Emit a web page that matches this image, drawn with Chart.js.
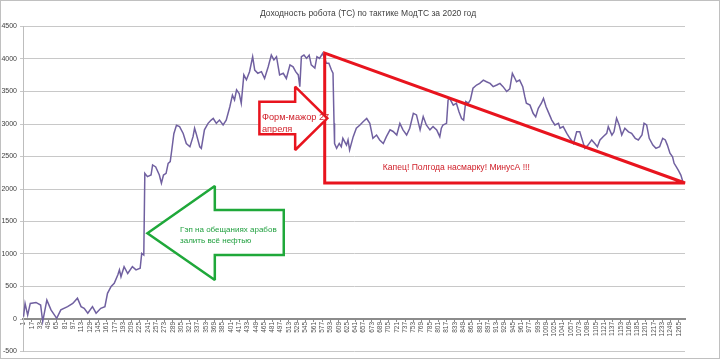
<!DOCTYPE html>
<html>
<head>
<meta charset="utf-8">
<script src="https://cdn.jsdelivr.net/npm/chart.js@4"></script>
<style>
  html, body { margin: 0; padding: 0; background: #fff; }
  #wrap { width: 720px; height: 359px; }
</style>
</head>
<body>
<div id="wrap"><canvas id="chart" width="720" height="359"></canvas></div>
<script>
const chartTitle = 'Доходность робота (ТС) по тактике МодТС за 2020 год';

// day number (category) and robot profit
const days = [
  1, 4, 9, 14, 25, 34, 38, 46, 54, 65, 73, 86, 96, 105, 112, 118, 125, 134, 141, 150,
  158, 163, 170, 176, 183, 186, 189, 195, 202, 211, 218, 226, 229, 233, 235, 240, 247, 250, 256, 263,
  267, 271, 276, 280, 284, 287, 291, 296, 302, 309, 315, 322, 328, 331, 334, 341, 344, 350, 357, 363,
  367, 373, 379, 386, 392, 399, 404, 408, 412, 417, 421, 426, 431, 437, 443, 447, 453, 460, 466, 473,
  479, 484, 489, 495, 502, 508, 515, 521, 526, 531, 534, 537, 542, 547, 552, 556, 563, 567, 572, 578,
  582, 585, 590, 595, 598, 600, 601, 605, 610, 614, 617, 624, 627, 630, 637, 643, 650, 656, 663, 669,
  675, 682, 688, 695, 701, 708, 714, 721, 727, 733, 740, 746, 753, 759, 766, 772, 778, 785, 791, 798,
  804, 807, 810, 817, 820, 823, 830, 836, 841, 846, 850, 854, 859, 863, 868, 875, 881, 888, 894, 901,
  907, 914, 920, 926, 933, 939, 944, 949, 952, 958, 964, 968, 971, 978, 984, 989, 994, 1000, 1004, 1009,
  1013, 1020, 1026, 1033, 1036, 1042, 1049, 1055, 1062, 1068, 1074, 1080, 1084, 1090, 1097, 1103, 1108, 1113, 1119, 1126,
  1129, 1136, 1140, 1145, 1150, 1155, 1161, 1168, 1174, 1181, 1187, 1194, 1198, 1203, 1208, 1215, 1221, 1228, 1234, 1239,
  1243, 1248, 1253, 1256, 1260, 1264, 1269, 1273
];
const profit = [
  35, 240, 60, 240, 255, 215, -40, 290, 140, 10, 140, 190, 240, 320, 190, 165, 90, 190, 90, 165,
  190, 395, 500, 550, 680, 755, 650, 805, 700, 805, 755, 780, 1010, 985, 2240, 2190, 2215, 2370, 2340, 2215,
  2090, 2215, 2240, 2395, 2420, 2600, 2850, 2980, 2960, 2855, 2700, 2650, 2805, 2935, 2855, 2650, 2625, 2910, 3010, 3060,
  3085, 3010, 3060, 2985, 3060, 3265, 3445, 3370, 3525, 3470, 3320, 3755, 3680, 3805, 4035, 3830, 3780, 3805, 3700, 3880,
  4060, 3985, 4035, 3755, 3780, 3700, 3910, 3880, 3805, 3755, 3575, 4035, 4060, 4010, 4060, 3910, 3860, 4035, 4010, 4085,
  4010, 3935, 3935, 3830, 3780, 3010, 2700, 2625, 2700, 2650, 2780, 2675, 2755, 2600, 2805, 2935, 2985, 3035, 3085, 3010,
  2780, 2830, 2755, 2700, 2805, 2910, 2885, 2830, 3010, 2910, 2830, 2935, 3165, 3140, 2910, 3115, 2985, 2910, 2960, 2910,
  2805, 2935, 2985, 3010, 3370, 3395, 3290, 3320, 3190, 3085, 3060, 3345, 3320, 3370, 3550, 3600, 3625, 3675, 3650, 3625,
  3575, 3600, 3625, 3575, 3500, 3540, 3780, 3700, 3650, 3675, 3575, 3420, 3320, 3290, 3165, 3110, 3240, 3320, 3395, 3265,
  3190, 3060, 2985, 3010, 2935, 2960, 2855, 2780, 2700, 2880, 2880, 2725, 2625, 2675, 2755, 2700, 2650, 2755, 2805, 2855,
  2960, 2830, 2880, 3090, 2985, 2830, 2935, 2880, 2855, 2780, 2755, 2830, 3010, 2985, 2780, 2675, 2625, 2650, 2780, 2755,
  2675, 2550, 2495, 2395, 2345, 2290, 2215, 2110
];

// every 16th category is labelled: 1, 17, 33 ... 1265
const xTicks = Array.from({ length: 80 }, (_, k) => 1 + k * 16);
const yTicks = [-500, 0, 500, 1000, 1500, 2000, 2500, 3000, 3500, 4000, 4500];

// hand-drawn shapes, in data units (day, profit)
const redTriangle = [[582, 4092], [582, 2092], [1277, 2092]];
const redArrow = [[456, 3343], [525, 3343], [525, 3574], [587, 3088], [525, 2600], [525, 2842], [456, 2842]];
const greenArrow = [[240, 1318], [370, 2046], [370, 1677], [503, 1677], [503, 985], [370, 985], [370, 600]];
const notes = [
  { text: 'Форм-мажор 27', x: 461, y: 3108, color: '#d0202a', size: 9.2 },
  { text: 'апреля', x: 461, y: 2923, color: '#d0202a', size: 9.2 },
  { text: 'Капец! Полгода насмарку! МинусА !!!', x: 694, y: 2323, color: '#d0202a', size: 8.6 },
  { text: 'Гэп на обещаниях арабов', x: 303, y: 1369, color: '#22a040', size: 8 },
  { text: 'залить всё нефтью', x: 303, y: 1200, color: '#22a040', size: 8 }
];

const FONT = '"Liberation Sans", Arial, sans-serif';

const drawExtras = {
  id: 'drawExtras',
  beforeDraw(chart) {
    const ctx = chart.ctx;
    ctx.save();
    ctx.fillStyle = '#fff';
    ctx.fillRect(0, 0, chart.width, chart.height);
    ctx.restore();
  },
  afterDatasetsDraw(chart) {
    const { ctx, scales: { x, y } } = chart;
    const px = p => [x.getPixelForValue(p[0]), y.getPixelForValue(p[1])];

    function shape(points, color, width, fill) {
      ctx.beginPath();
      points.forEach((p, i) => {
        const [a, b] = px(p);
        if (i === 0) ctx.moveTo(a, b); else ctx.lineTo(a, b);
      });
      ctx.closePath();
      if (fill) { ctx.fillStyle = fill; ctx.fill(); }
      ctx.strokeStyle = color;
      ctx.lineWidth = width;
      ctx.lineJoin = 'miter';
      ctx.miterLimit = 2;
      ctx.stroke();
    }

    ctx.save();
    shape(redTriangle, '#e8141e', 3, null);
    shape(redArrow, '#e8141e', 2.5, '#fff');
    shape(greenArrow, '#1fa83a', 2.5, '#fff');

    ctx.textBaseline = 'middle';
    ctx.textAlign = 'left';
    notes.forEach(n => {
      const [a, b] = px([n.x, n.y]);
      ctx.font = n.size + 'px ' + FONT;
      ctx.fillStyle = n.color;
      ctx.fillText(n.text, a, b);
    });

    // title and outer frame
    ctx.fillStyle = '#404040';
    ctx.font = '8.5px ' + FONT;
    ctx.textAlign = 'center';
    ctx.fillText(chartTitle, 368, 14);
    ctx.strokeStyle = '#c0c0c0';
    ctx.lineWidth = 1;
    ctx.strokeRect(0.5, 0.5, chart.width - 1, chart.height - 1);
    ctx.restore();
  }
};

new Chart(document.getElementById('chart'), {
  type: 'line',
  data: {
    datasets: [{
      data: days.map((d, i) => ({ x: d, y: profit[i] })),
      borderColor: '#7060a0',
      borderWidth: 1.5,
      pointRadius: 0,
      tension: 0,
      fill: false
    }]
  },
  options: {
    responsive: false,
    animation: false,
    layout: { padding: { top: 26.5, bottom: 7.5, left: 0, right: 35 } },
    plugins: {
      legend: { display: false },
      title: { display: false },
      tooltip: { enabled: false }
    },
    scales: {
      x: {
        type: 'linear',
        position: { y: 0 },
        min: 0,
        max: 1277,
        afterBuildTicks: scale => { scale.ticks = xTicks.map(v => ({ value: v })); },
        ticks: {
          autoSkip: false,
          minRotation: 90,
          maxRotation: 90,
          padding: 1,
          color: '#505050',
          font: { size: 6.5, family: FONT },
          callback: v => String(v)
        },
        grid: { drawOnChartArea: false, drawTicks: true, tickLength: 2, color: '#8c8c8c' },
        border: { display: true, color: '#8c8c8c', width: 2 }
      },
      y: {
        min: -500,
        max: 4500,
        afterFit: scale => { scale.width = 23; },
        afterBuildTicks: scale => { scale.ticks = yTicks.map(v => ({ value: v })); },
        ticks: {
          padding: 3,
          color: '#404040',
          font: { size: 7, family: FONT },
          callback: v => String(v)
        },
        grid: { color: '#c8c8c8', tickLength: 3, lineWidth: 1 },
        border: { display: true, color: '#bdbdbd' }
      }
    }
  },
  plugins: [drawExtras]
});
</script>
</body>
</html>
